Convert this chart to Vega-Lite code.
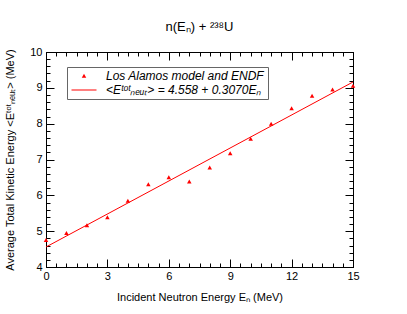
{
  "$schema": "https://vega.github.io/schema/vega-lite/v6.json",
  "width": 307,
  "height": 215,
  "padding": {"left": 4, "top": 21, "right": 5, "bottom": 5},
  "background": "white",
  "title": {"text": "n(Eₙ) + ²³⁸U", "font": "Liberation Sans", "fontSize": 13, "fontWeight": "normal", "color": "black", "offset": 12},
  "config": {
    "view": {"stroke": "black", "strokeWidth": 1},
    "axis": {"grid": false, "domainColor": "black", "tickColor": "black", "labelFont": "Liberation Sans", "labelFontSize": 11, "labelColor": "black", "titleFont": "Liberation Sans", "titleFontSize": 11, "titleFontWeight": "normal", "titleColor": "black", "labelOverlap": false, "labelFlush": false}
  },
  "datasets": {
    "endf": [
      {"En": 0, "TKE": 4.75, "series": "Los Alamos model and ENDF"},
      {"En": 1, "TKE": 4.94, "series": "Los Alamos model and ENDF"},
      {"En": 2, "TKE": 5.16, "series": "Los Alamos model and ENDF"},
      {"En": 3, "TKE": 5.38, "series": "Los Alamos model and ENDF"},
      {"En": 4, "TKE": 5.84, "series": "Los Alamos model and ENDF"},
      {"En": 5, "TKE": 6.30, "series": "Los Alamos model and ENDF"},
      {"En": 6, "TKE": 6.50, "series": "Los Alamos model and ENDF"},
      {"En": 7, "TKE": 6.38, "series": "Los Alamos model and ENDF"},
      {"En": 8, "TKE": 6.77, "series": "Los Alamos model and ENDF"},
      {"En": 9, "TKE": 7.17, "series": "Los Alamos model and ENDF"},
      {"En": 10, "TKE": 7.57, "series": "Los Alamos model and ENDF"},
      {"En": 11, "TKE": 7.99, "series": "Los Alamos model and ENDF"},
      {"En": 12, "TKE": 8.42, "series": "Los Alamos model and ENDF"},
      {"En": 13, "TKE": 8.77, "series": "Los Alamos model and ENDF"},
      {"En": 14, "TKE": 8.95, "series": "Los Alamos model and ENDF"},
      {"En": 15, "TKE": 9.05, "series": "Los Alamos model and ENDF"}
    ],
    "fit": [
      {"En": 0, "TKE": 4.558},
      {"En": 15, "TKE": 9.163}
    ]
  },
  "layer": [
    {
      "data": {"name": "endf"},
      "mark": {"type": "point", "filled": true, "color": "#ff0000", "opacity": 1, "size": 100},
      "encoding": {
        "x": {
          "field": "En", "type": "quantitative",
          "scale": {"domain": [0, 15], "nice": false},
          "axis": {
            "orient": "bottom",
            "title": "Incident Neutron Energy  Eₙ  (MeV)",
            "values": [0,0.5,1,1.5,2,2.5,3,3.5,4,4.5,5,5.5,6,6.5,7,7.5,8,8.5,9,9.5,10,10.5,11,11.5,12,12.5,13,13.5,14,14.5,15],
            "labelExpr": "datum.value % 3 === 0 ? format(datum.value, 'd') : ''",
            "tickSize": {"condition": {"test": "datum.value % 3 === 0", "value": -8}, "value": -4},
            "labelPadding": 11,
            "titlePadding": 6
          }
        },
        "y": {
          "field": "TKE", "type": "quantitative",
          "scale": {"domain": [4, 10], "nice": false, "zero": false},
          "axis": {
            "orient": "left",
            "title": "Average Total Kinetic Energy <Eᵗᵒᵗₙₑᵤₜ>  (MeV)",
            "values": [4,4.2,4.4,4.6,4.8,5,5.2,5.4,5.6,5.8,6,6.2,6.4,6.6,6.8,7,7.2,7.4,7.6,7.8,8,8.2,8.4,8.6,8.8,9,9.2,9.4,9.6,9.8,10],
            "labelExpr": "datum.value % 1 === 0 ? format(datum.value, 'd') : ''",
            "tickSize": {"condition": {"test": "datum.value % 1 === 0", "value": -8}, "value": -4},
            "labelPadding": 12,
            "titlePadding": 14
          }
        },
        "shape": {
          "field": "series", "type": "nominal",
          "scale": {
            "domain": ["Los Alamos model and ENDF", "<Eᵗᵒᵗₙₑᵤₜ> = 4.558 + 0.3070Eₙ"],
            "range": ["M0,-0.45L0.45,0.35L-0.45,0.35Z", "M-2.5,-0.1H2.5V0.1H-2.5Z"]
          },
          "legend": {
            "title": null,
            "orient": "none",
            "legendX": 21,
            "legendY": 15,
            "strokeColor": "#666666",
            "fillColor": "white",
            "padding": 3,
            "labelFont": "Liberation Sans",
            "labelFontStyle": "italic",
            "labelFontSize": 12,
            "labelColor": "black",
            "labelLimit": 300,
            "symbolSize": 100,
            "symbolFillColor": "#ff0000",
            "symbolStrokeColor": "#ff0000",
            "symbolStrokeWidth": 0,
            "symbolOffset": 8,
            "labelOffset": 16,
            "rowPadding": 2,
            "encode": {"symbols": {"update": {"fill": {"value": "#ff0000"}, "opacity": {"value": 1}, "strokeWidth": {"value": 0}}}}
          }
        }
      }
    },
    {
      "data": {"name": "fit"},
      "mark": {"type": "line", "color": "#ff0000", "strokeWidth": 1},
      "encoding": {
        "x": {
          "field": "En", "type": "quantitative",
          "scale": {"domain": [0, 15], "nice": false},
          "axis": {
            "orient": "top",
            "title": null,
            "values": [0,0.5,1,1.5,2,2.5,3,3.5,4,4.5,5,5.5,6,6.5,7,7.5,8,8.5,9,9.5,10,10.5,11,11.5,12,12.5,13,13.5,14,14.5,15],
            "labels": false,
            "tickSize": {"condition": {"test": "datum.value % 3 === 0", "value": -8}, "value": -4}
          }
        },
        "y": {
          "field": "TKE", "type": "quantitative",
          "scale": {"domain": [4, 10], "nice": false, "zero": false},
          "axis": {
            "orient": "right",
            "title": null,
            "values": [4,4.2,4.4,4.6,4.8,5,5.2,5.4,5.6,5.8,6,6.2,6.4,6.6,6.8,7,7.2,7.4,7.6,7.8,8,8.2,8.4,8.6,8.8,9,9.2,9.4,9.6,9.8,10],
            "labels": false,
            "tickSize": {"condition": {"test": "datum.value % 1 === 0", "value": -8}, "value": -4}
          }
        }
      }
    }
  ],
  "resolve": {"axis": {"x": "independent", "y": "independent"}}
}
